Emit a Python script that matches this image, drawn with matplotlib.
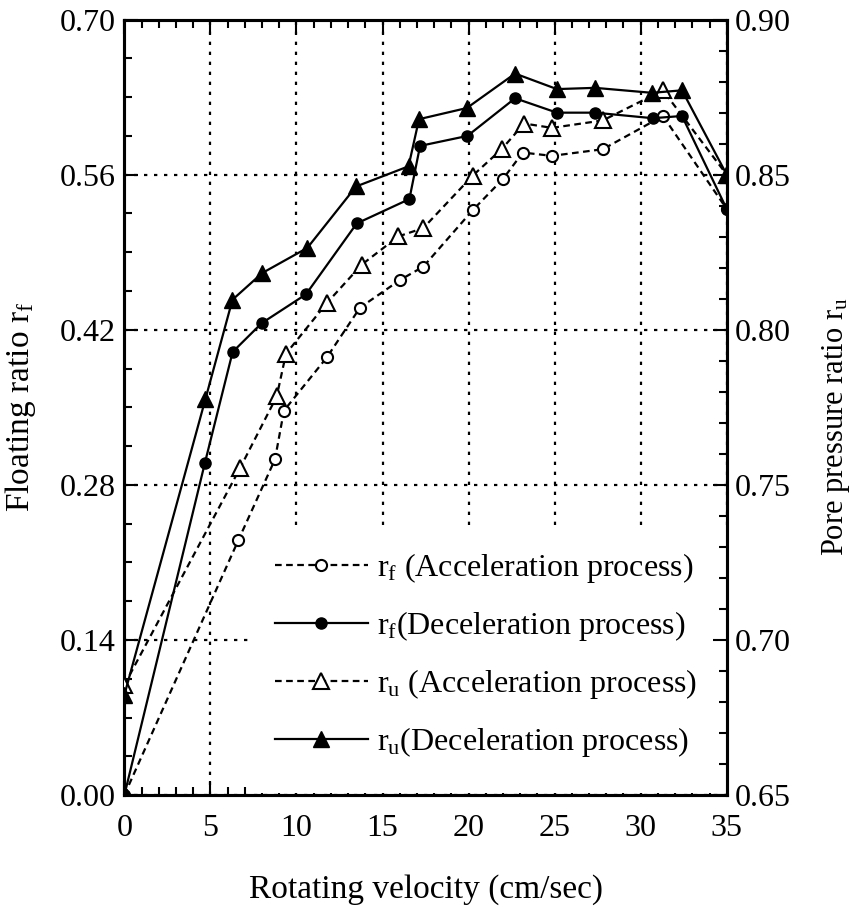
import matplotlib
matplotlib.use("Agg")
import matplotlib.pyplot as plt
from matplotlib.ticker import MultipleLocator, FormatStrFormatter
from matplotlib.lines import Line2D
from matplotlib.patches import Rectangle

plt.rcParams['font.family'] = ['Liberation Serif', 'DejaVu Serif']
plt.rcParams['mathtext.fontset'] = 'custom'
plt.rcParams['mathtext.rm'] = 'Liberation Serif'
plt.rcParams['mathtext.it'] = 'Liberation Serif'

# ---- data ----
vel_rf_acc = [0, 6.62, 8.75, 9.27, 11.76, 13.69, 16.02, 17.37, 20.24, 21.99, 23.15, 24.84, 27.8, 31.29, 35.0]
rf_acc     = [0.0, 0.230, 0.303, 0.347, 0.395, 0.440, 0.465, 0.477, 0.528, 0.556, 0.580, 0.577, 0.583, 0.613, 0.529]

vel_rf_dec = [0, 4.68, 6.29, 7.98, 10.55, 13.5, 16.56, 17.18, 19.93, 22.7, 25.13, 27.35, 30.7, 32.4, 35.0]
rf_dec     = [0.0, 0.300, 0.400, 0.426, 0.452, 0.516, 0.538, 0.586, 0.595, 0.629, 0.616, 0.616, 0.611, 0.613, 0.529]

vel_ru_acc = [0, 6.72, 8.85, 9.39, 11.76, 13.79, 15.92, 17.37, 20.24, 21.93, 23.23, 24.84, 27.8, 31.29, 35.0]
ru_acc     = [0.6855, 0.7554, 0.7785, 0.7923, 0.8086, 0.8210, 0.8301, 0.8328, 0.8497, 0.8583, 0.8665, 0.8651, 0.8675, 0.8772, 0.850]

vel_ru_dec = [0, 4.71, 6.28, 8.01, 10.63, 13.46, 16.51, 17.12, 19.9, 22.7, 25.13, 27.35, 30.65, 32.4, 35.0]
ru_dec     = [0.6823, 0.7777, 0.8097, 0.8183, 0.8264, 0.8462, 0.8527, 0.8679, 0.8715, 0.8826, 0.8776, 0.8780, 0.8764, 0.8772, 0.850]

x_ticks = [0, 5, 10, 15, 20, 25, 30, 35]
left_ticks = [0.00, 0.14, 0.28, 0.42, 0.56, 0.70]
right_ticks = [0.65, 0.70, 0.75, 0.80, 0.85, 0.90]

legend_labels = [r"$\mathregular{r_f}$ (Acceleration process)",
                 r"$\mathregular{r_f}$(Deceleration process)",
                 r"$\mathregular{r_u}$ (Acceleration process)",
                 r"$\mathregular{r_u}$(Deceleration process)"]

fig = plt.figure(figsize=(8.52, 9.08), dpi=100)
ax = fig.add_axes([0.146, 0.1244, 0.707, 0.854])
ax2 = ax.twinx()

FS = 23
LFS = 24
lw = 1.6
dash = (0, (3, 2))

ax.plot(vel_rf_acc, rf_acc, linestyle=dash, color='black', lw=lw, marker='o',
        markersize=8, markerfacecolor='white', markeredgecolor='black', markeredgewidth=1.5, zorder=3)
ax.plot(vel_rf_dec, rf_dec, linestyle='-', color='black', lw=lw, marker='o',
        markersize=8, markerfacecolor='black', markeredgecolor='black', zorder=3)
ax2.plot(vel_ru_acc, ru_acc, linestyle=dash, color='black', lw=lw, marker='^',
         markersize=11, markerfacecolor='white', markeredgecolor='black', markeredgewidth=1.5, zorder=3)
ax2.plot(vel_ru_dec, ru_dec, linestyle='-', color='black', lw=lw, marker='^',
         markersize=11, markerfacecolor='black', markeredgecolor='black', zorder=3)

ax.set_xlim(0, 35)
ax.set_ylim(0, 0.70)
ax2.set_ylim(0.65, 0.90)

ax.set_xticks(x_ticks)
ax.set_yticks(left_ticks)
ax2.set_yticks(right_ticks)
ax.xaxis.set_minor_locator(MultipleLocator(1))
ax.yaxis.set_minor_locator(MultipleLocator(0.035))
ax2.yaxis.set_minor_locator(MultipleLocator(0.01))
ax.yaxis.set_major_formatter(FormatStrFormatter('%.2f'))
ax2.yaxis.set_major_formatter(FormatStrFormatter('%.2f'))

ax.tick_params(axis='both', which='both', direction='in', top=True, right=False,
               labelsize=FS, width=1.5)
ax.tick_params(axis='y', pad=6)
ax.tick_params(axis='x', pad=14)
ax.tick_params(which='major', length=10)
ax.tick_params(which='minor', length=6)
ax2.tick_params(axis='y', which='both', direction='in', labelsize=FS, width=1.5, pad=6)
ax2.tick_params(which='major', length=10)
ax2.tick_params(which='minor', length=6)

ax.grid(True, which='major', linestyle=(0, (1.5, 3)), color='black', lw=1.6)
ax.set_axisbelow(True)

# white area behind the legend hides the grid there
ax.add_patch(Rectangle((0.208, 0.003), 0.79, 0.342, transform=ax.transAxes,
                       facecolor='white', edgecolor='none', zorder=2))

for a in (ax, ax2):
    for s in a.spines.values():
        s.set_linewidth(2.2)

ax.set_xlabel("Rotating velocity (cm/sec)", fontsize=LFS, labelpad=22)
ax.set_ylabel(r"Floating ratio $\mathregular{r_f}$", fontsize=LFS, labelpad=16)
ax2.set_ylabel(r"Pore pressure ratio $\mathregular{r_u}$", fontsize=22, labelpad=21)
ax2.yaxis.label.set_y(0.475)

handles = [
    Line2D([], [], linestyle=dash, color='black', lw=lw, marker='o', markersize=8,
           markerfacecolor='white', markeredgecolor='black', markeredgewidth=1.5),
    Line2D([], [], linestyle='-', color='black', lw=lw, marker='o', markersize=8,
           markerfacecolor='black'),
    Line2D([], [], linestyle=dash, color='black', lw=lw, marker='^', markersize=11,
           markerfacecolor='white', markeredgecolor='black', markeredgewidth=1.5),
    Line2D([], [], linestyle='-', color='black', lw=lw, marker='^', markersize=11,
           markerfacecolor='black'),
]
leg = ax2.legend(handles, legend_labels, loc='lower left', bbox_to_anchor=(0.25, 0.046),
                 fontsize=FS, frameon=False, handlelength=2.9, handletextpad=0.3,
                 labelspacing=0.75, borderpad=0, borderaxespad=0)
leg.set_zorder(5)

fig.savefig("out.png", dpi=100)
